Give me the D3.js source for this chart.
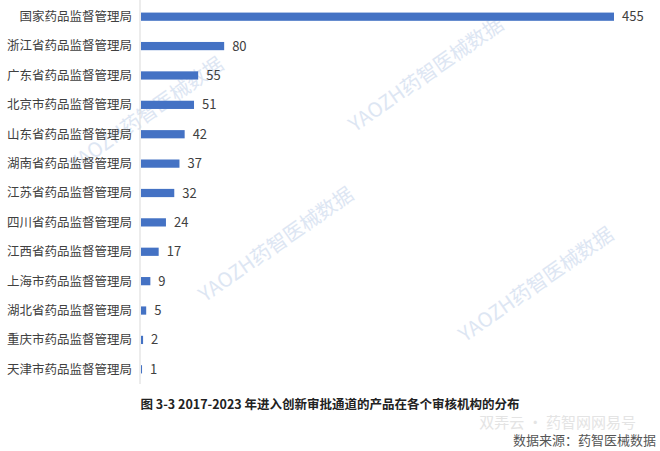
<!DOCTYPE html>
<html><head><meta charset="utf-8">
<script src="https://cdn.jsdelivr.net/npm/d3@7"></script>
<style>body{margin:0;background:#fff}text{font-family:"Noto Sans CJK SC","Noto Sans",sans-serif}</style>
</head><body><svg id="c"></svg>
<script>
const categories = ["国家药品监督管理局","浙江省药品监督管理局","广东省药品监督管理局","北京市药品监督管理局","山东省药品监督管理局","湖南省药品监督管理局","江苏省药品监督管理局","四川省药品监督管理局","江西省药品监督管理局","上海市药品监督管理局","湖北省药品监督管理局","重庆市药品监督管理局","天津市药品监督管理局"]
const values = [455,80,55,51,42,37,32,24,17,9,5,2,1]

const W = 660, H = 451
const svg = d3.select("#c").attr("width", W).attr("height", H)

// faint watermarks
const wm = [[150,120],[430,80],[540,290],[280,250]]
wm.forEach(([x,y]) => {
  svg.append("text").attr("transform", `translate(${x},${y})rotate(-35)`)
    .attr("fill", "#dde6f3").attr("font-size", 20).attr("text-anchor", "middle")
    .text("YAOZH药智医械数据")
})

const x = d3.scaleLinear().domain([0, 455]).range([141, 614])
const y = d3.scaleBand().domain(categories).range([2, 384]).paddingInner(0.72).paddingOuter(0.36)

svg.append("line").attr("x1", 140).attr("x2", 140).attr("y1", 0).attr("y2", 384)
  .attr("stroke", "#d9d9d9")

svg.selectAll("rect.bar").data(values).enter().append("rect")
  .attr("x", x(0)).attr("y", (d, i) => y(categories[i]))
  .attr("width", d => x(d) - x(0)).attr("height", y.bandwidth())
  .attr("fill", "#4472c4")

svg.selectAll("text.cat").data(categories).enter().append("text")
  .attr("x", 132).attr("y", d => y(d) + y.bandwidth() / 2).attr("dy", "0.35em")
  .attr("text-anchor", "end").attr("font-size", 12.5).attr("fill", "#404040").text(d => d)

svg.selectAll("text.val").data(values).enter().append("text")
  .attr("x", d => x(d) + 8).attr("y", (d, i) => y(categories[i]) + y.bandwidth() / 2).attr("dy", "0.35em")
  .attr("font-size", 13).attr("fill", "#404040").text(d => d)

svg.append("text").attr("x", 330).attr("y", 409).attr("text-anchor", "middle")
  .attr("font-size", 12.5).attr("font-weight", "bold").attr("fill", "#222")
  .text("图 3-3 2017-2023 年进入创新审批通道的产品在各个审核机构的分布")

svg.append("text").attr("x", 636).attr("y", 428).attr("text-anchor", "end")
  .attr("font-size", 15).attr("fill", "#e4e4e4").text("双弄云 · 药智网网易号")
svg.append("text").attr("x", 656).attr("y", 445).attr("text-anchor", "end")
  .attr("font-size", 13).attr("fill", "#555").text("数据来源：药智医械数据")
</script></body></html>
